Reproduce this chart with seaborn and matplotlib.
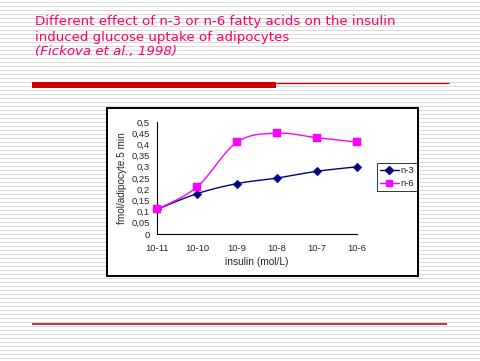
import numpy as np
import pandas as pd
import matplotlib
matplotlib.use("Agg")
import matplotlib.pyplot as plt
import seaborn as sns
from matplotlib.patches import Rectangle
from matplotlib.lines import Line2D

# data
doses = ["10-11", "10-10", "10-9", "10-8", "10-7", "10-6"]
n3_uptake = [0.11, 0.18, 0.225, 0.25, 0.28, 0.30]
n6_uptake = [0.11, 0.21, 0.41, 0.45, 0.43, 0.41]
y_ticks = [0, 0.05, 0.1, 0.15, 0.2, 0.25, 0.3, 0.35, 0.4, 0.45, 0.5]
y_tick_labels = ["0", "0,05", "0,1", "0,15", "0,2", "0,25", "0,3",
                 "0,35", "0,4", "0,45", "0,5"]

W, H = 481, 361
TITLE_COLOR = "#FF0066"


def smooth_curve(values, steps=24):
    """Catmull-Rom curve through the points (like Excel's smoothed line)."""
    y = np.asarray(values, dtype=float)
    x = np.arange(len(y), dtype=float)
    px = np.concatenate([[x[0]], x, [x[-1]]])
    py = np.concatenate([[y[0]], y, [y[-1]]])
    xs, ys = [], []
    for i in range(1, len(px) - 2):
        t = np.linspace(0, 1, steps, endpoint=False)
        for p, out in ((px, xs), (py, ys)):
            p0, p1, p2, p3 = p[i - 1], p[i], p[i + 1], p[i + 2]
            out.extend(0.5 * (2 * p1 + (-p0 + p2) * t
                              + (2 * p0 - 5 * p1 + 4 * p2 - p3) * t ** 2
                              + (-p0 + 3 * p1 - 3 * p2 + p3) * t ** 3))
    xs.append(x[-1])
    ys.append(y[-1])
    return np.array(xs), np.array(ys)


sns.set_style("white")
plt.rcParams["font.family"] = ["Liberation Sans", "DejaVu Sans"]

fig = plt.figure(figsize=(W / 100, H / 100), dpi=100)

# slide background in pixel coordinates
bg = fig.add_axes([0, 0, 1, 1], zorder=0)
bg.set_xlim(0, W)
bg.set_ylim(H, 0)
bg.axis("off")
for yy in np.arange(1.5, H, 4):
    bg.plot([0, 479], [yy, yy], color="#DADADA", lw=0.72,
            solid_capstyle="butt", zorder=1)

# title
title_lines = ["Different effect of n-3 or n-6 fatty acids on the insulin",
               "induced glucose uptake of adipocytes"]
for i, line in enumerate(title_lines):
    bg.text(35, 22 + i * 15, line, color=TITLE_COLOR, fontsize=9.6,
            family="DejaVu Sans", va="center", ha="left", zorder=4)
bg.text(35, 52, "(Fickova et al., 1998)", color=TITLE_COLOR, fontsize=9.6,
        family="DejaVu Sans", style="italic", va="center", ha="left", zorder=4)

# red rules
bg.add_patch(Rectangle((32, 82), 244, 6, color="#CC0000", lw=0, zorder=3))
bg.plot([276, 449], [82.5, 82.5], color="#CC0000", lw=0.9,
        solid_capstyle="butt", zorder=3)
bg.plot([32, 447], [323.5, 323.5], color="#B00000", lw=1.1,
        solid_capstyle="butt", zorder=3)

# chart frame
bg.add_patch(Rectangle((107.5, 107.5), 311, 168, facecolor="white",
                       edgecolor="black", lw=1.4, zorder=3))

# plot area
ax = fig.add_axes([157 / W, 1 - 234 / H, 200 / W, 112 / H], zorder=2)
ax.patch.set_alpha(0)

series = {"n-3": n3_uptake, "n-6": n6_uptake}
palette = {"n-3": "#000080", "n-6": "#FF00FF"}
markers = {"n-3": "D", "n-6": "s"}

curve_rows = []
for name, vals in series.items():
    cx, cy = smooth_curve(vals)
    curve_rows.append(pd.DataFrame({"pos": cx, "value": cy, "series": name}))
curves = pd.concat(curve_rows, ignore_index=True)

points = pd.DataFrame({
    "pos": list(range(len(doses))) * 2,
    "value": n3_uptake + n6_uptake,
    "series": ["n-3"] * len(doses) + ["n-6"] * len(doses),
})

sns.lineplot(data=curves, x="pos", y="value", hue="series", palette=palette,
             estimator=None, sort=False, lw=1.0, legend=False, ax=ax)
for name in series:
    sub = points[points["series"] == name]
    sns.scatterplot(data=sub, x="pos", y="value", color=palette[name],
                    marker=markers[name], s=26 if name == "n-6" else 20,
                    edgecolor=palette[name], linewidth=0.3, legend=False,
                    clip_on=False, zorder=5, ax=ax)

ax.set_xlim(0, len(doses) - 1)
ax.set_ylim(0, 0.5)
ax.set_xticks(range(len(doses)))
ax.set_xticklabels(doses)
ax.set_yticks(y_ticks)
ax.set_yticklabels(y_tick_labels)
ax.tick_params(axis="both", labelsize=6.8, length=3, width=0.8, color="black",
               direction="out", pad=2)
ax.tick_params(axis="x", pad=4)
for side in ["top", "right"]:
    ax.spines[side].set_visible(False)
for side in ["left", "bottom"]:
    ax.spines[side].set_color("black")
    ax.spines[side].set_linewidth(0.8)
ax.grid(False)
ax.set_xlabel("insulin (mol/L)", fontsize=7.3, labelpad=3)
ax.set_ylabel("fmol/adipocyte.5 min", fontsize=7.2, labelpad=3)

handles = [Line2D([0], [0], color=palette[n], marker=markers[n], lw=1,
                  markersize=4.2 if n == "n-6" else 3.6) for n in series]
leg = ax.legend(handles, list(series), loc="center left",
                bbox_to_anchor=(377 / W, 1 - 177 / H),
                bbox_transform=fig.transFigure, fontsize=6.8, frameon=True,
                fancybox=False, edgecolor="black", handlelength=2.0,
                handletextpad=0.2, borderpad=0.3, labelspacing=0.4,
                borderaxespad=0)
leg.get_frame().set_linewidth(0.7)

fig.savefig("out.png", dpi=100)
